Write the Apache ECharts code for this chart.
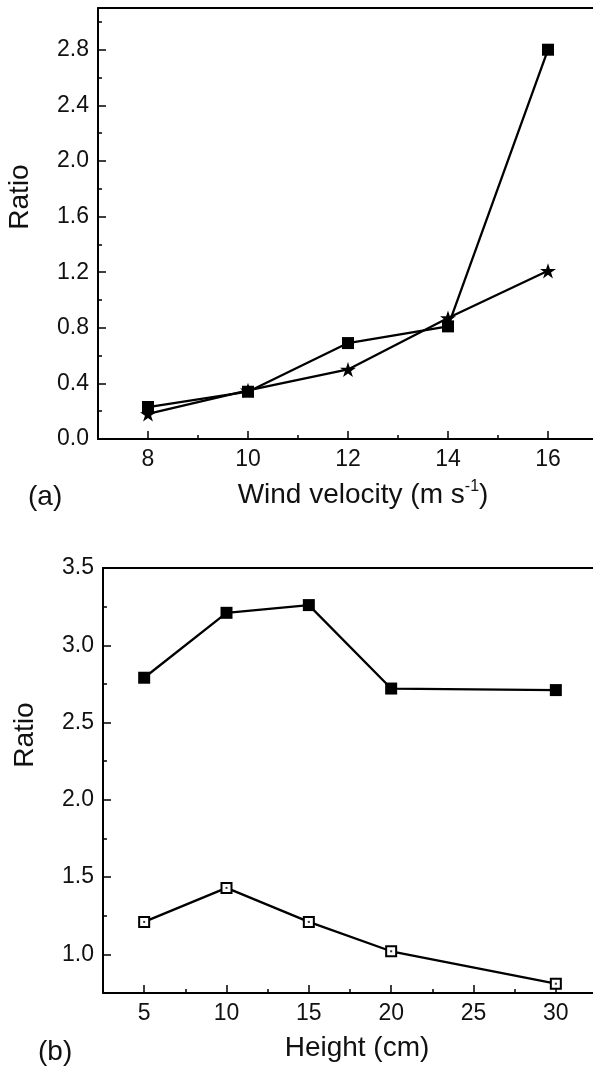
<!DOCTYPE html>
<html>
<head>
<meta charset="utf-8">
<script src="https://cdn.jsdelivr.net/npm/echarts@6/dist/echarts.min.js"></script>
<style>
html,body{margin:0;padding:0;background:#fff;overflow:hidden;}
#chart{width:593px;height:1068px;}
</style>
</head>
<body>
<div id="chart"></div>
<script>
// ---- Panel (a) data ----
const topX = [8, 10, 12, 14, 16];
const topSquares = [0.23, 0.34, 0.69, 0.81, 2.80];
const topStars = [0.18, 0.35, 0.50, 0.87, 1.21];
const topXTicks = [8, 10, 12, 14, 16];
const topXMinor = [9, 11, 13, 15];
const topYTicks = [0, 0.4, 0.8, 1.2, 1.6, 2.0, 2.4, 2.8];
const topYMinor = [0.2, 0.6, 1.0, 1.4, 1.8, 2.2, 2.6, 3.0];

// ---- Panel (b) data ----
const botX = [5, 10, 15, 20, 30];
const botFilled = [2.79, 3.21, 3.26, 2.72, 2.71];
const botOpen = [1.21, 1.43, 1.21, 1.02, 0.81];
const botXTicks = [5, 10, 15, 20, 25, 30];
const botXMinor = [7.5, 12.5, 17.5, 22.5, 27.5];
const botYTicks = [1.0, 1.5, 2.0, 2.5, 3.0, 3.5];
const botYMinor = [1.25, 1.75, 2.25, 2.75, 3.25];

const FONT = "'Liberation Sans', Arial, sans-serif";
const STAR = 'path://M50 0 L61.17 34.63 L97.55 34.55 L68.07 55.87 L79.39 90.45 L50 69 L20.61 90.45 L31.93 55.87 L2.45 34.55 L38.83 34.63 Z';

function majorAxis(gridIndex, min, max, ticks, pos, fmt) {
  return {
    type: 'value', gridIndex, min, max, position: pos,
    splitLine: {show: false},
    axisLine: {show: true, onZero: false, lineStyle: {color: '#000', width: 2}},
    axisTick: {show: true, inside: true, length: 8, lineStyle: {color: '#000', width: 1.5}, customValues: ticks},
    axisLabel: {show: true, customValues: ticks, formatter: fmt, color: '#111', fontSize: 23, fontFamily: FONT, margin: 9}
  };
}
function minorAxis(gridIndex, min, max, ticks, pos) {
  return {
    type: 'value', gridIndex, min, max, position: pos,
    splitLine: {show: false},
    axisLine: {show: false, onZero: false},
    axisTick: {show: true, inside: true, length: 4, lineStyle: {color: '#000', width: 1.5}, customValues: ticks},
    axisLabel: {show: false}
  };
}
function frameAxis(gridIndex, min, max) {
  return {
    type: 'value', gridIndex, min, max, position: 'top',
    splitLine: {show: false},
    axisLine: {show: true, onZero: false, lineStyle: {color: '#000', width: 2}},
    axisTick: {show: false}, axisLabel: {show: false}
  };
}
const pair = (xs, ys) => xs.map((x, i) => [x, ys[i]]);

const option = {
  backgroundColor: '#fff',
  animation: false,
  grid: [
    {left: 98, top: 8, width: 500, height: 431, outerBoundsMode: 'none', containLabel: false, show: false},
    {left: 103, top: 568, width: 494, height: 425, outerBoundsMode: 'none', containLabel: false, show: false}
  ],
  xAxis: [
    majorAxis(0, 7, 17, topXTicks, 'bottom', v => String(v)),
    minorAxis(0, 7, 17, topXMinor, 'bottom'),
    majorAxis(1, 2.5, 32.5, botXTicks, 'bottom', v => String(v)),
    minorAxis(1, 2.5, 32.5, botXMinor, 'bottom'),
    frameAxis(0, 7, 17),
    frameAxis(1, 2.5, 32.5)
  ],
  yAxis: [
    majorAxis(0, 0, 3.1, topYTicks, 'left', v => v.toFixed(1)),
    minorAxis(0, 0, 3.1, topYMinor, 'left'),
    majorAxis(1, 0.75, 3.5, botYTicks, 'left', v => v.toFixed(1)),
    minorAxis(1, 0.75, 3.5, botYMinor, 'left')
  ],
  series: [
    {type: 'line', xAxisIndex: 0, yAxisIndex: 0, data: pair(topX, topStars),
     symbol: STAR, symbolSize: 16, symbolKeepAspect: true,
     lineStyle: {color: '#000', width: 2.3}, itemStyle: {color: '#000'}, z: 3},
    {type: 'line', xAxisIndex: 0, yAxisIndex: 0, data: pair(topX, topSquares),
     symbol: 'rect', symbolSize: 12,
     lineStyle: {color: '#000', width: 2.3}, itemStyle: {color: '#000'}, z: 4},
    {type: 'line', xAxisIndex: 2, yAxisIndex: 2, data: pair(botX, botFilled),
     symbol: 'rect', symbolSize: 12,
     lineStyle: {color: '#000', width: 2.3}, itemStyle: {color: '#000'}, z: 3},
    {type: 'line', xAxisIndex: 2, yAxisIndex: 2, data: pair(botX, botOpen),
     symbol: 'emptyRect', symbolSize: 10,
     lineStyle: {color: '#000', width: 2.3}, itemStyle: {color: '#000', borderWidth: 1.5}, z: 3},
    {type: 'scatter', xAxisIndex: 2, yAxisIndex: 2, data: pair(botX, botOpen),
     symbol: 'rect', symbolSize: 2, itemStyle: {color: '#000'}, z: 5}
  ],
  graphic: [
    {type: 'text', x: 20, y: 197, rotation: Math.PI / 2,
     style: {text: 'Ratio', fontSize: 28, fontFamily: FONT, fill: '#111', align: 'center', verticalAlign: 'middle'}},
    {type: 'text', x: 28, y: 497,
     style: {text: '(a)', fontSize: 28, fontFamily: FONT, fill: '#111', align: 'left', verticalAlign: 'middle'}},
    {type: 'text', x: 363, y: 495,
     style: {text: '{a|Wind velocity (m s}{s|-1}{a|)}', align: 'center', verticalAlign: 'middle',
       rich: {a: {fontSize: 28, fontFamily: FONT, fill: '#111', lineHeight: 32},
              s: {fontSize: 16, fontFamily: FONT, fill: '#111', verticalAlign: 'top', lineHeight: 32, padding: [0, 0, 12, 0]}}}},
    {type: 'text', x: 25, y: 735, rotation: Math.PI / 2,
     style: {text: 'Ratio', fontSize: 28, fontFamily: FONT, fill: '#111', align: 'center', verticalAlign: 'middle'}},
    {type: 'text', x: 38, y: 1052,
     style: {text: '(b)', fontSize: 28, fontFamily: FONT, fill: '#111', align: 'left', verticalAlign: 'middle'}},
    {type: 'text', x: 357, y: 1048,
     style: {text: 'Height (cm)', fontSize: 28, fontFamily: FONT, fill: '#111', align: 'center', verticalAlign: 'middle'}}
  ]
};
const chart = echarts.init(document.getElementById('chart'), null, {renderer: 'canvas'});
chart.setOption(option);
</script>
</body>
</html>
